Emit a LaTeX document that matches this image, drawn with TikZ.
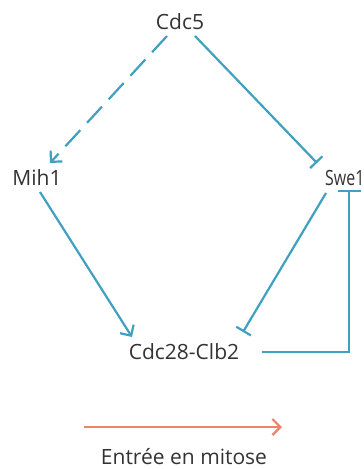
\documentclass[tikz,border=0pt]{standalone}
\usepackage{fontspec}
\setmainfont{Open Sans}
\usetikzlibrary{arrows.meta,calc}
\definecolor{lblue}{HTML}{3FA0C0}
\definecolor{lorange}{HTML}{E8856B}
\definecolor{txt}{HTML}{333333}
\begin{document}
\begin{tikzpicture}[x=1pt,y=-1pt,
  lab/.style={inner sep=0pt,text=txt,font=\fontsize{21}{24}\selectfont},
  link/.style={draw=lblue,line width=2.2pt},
  act/.style={link,-{Straight Barb[length=8pt,width=16pt,line width=2.2pt]}},
  inh/.style={link,-{Bar[width=17pt,line width=2.2pt]}}]
\useasboundingbox (0,0) rectangle (364,469);
\node[lab] (cdc5) at (180,22) {Cdc5};
\node[lab] (mih1) at (37,178) {Mih1};
\node[lab,anchor=west] (swe1) at (325,178) {\scalebox{0.76}[1]{Swe1}};
\node[lab] (c28) at (184,352) {Cdc28-Clb2};
\node[lab] (entree) at (184,457) {Entrée en mitose};
\draw[act,dash pattern=on 22pt off 10pt] ($(cdc5)+(-13,14)$) -- ($(mih1)+(13,-15)$);
\draw[inh] ($(cdc5)+(15,14)$) -- ($(swe1.west)+(-8,-15)$);
\draw[act] ($(mih1)+(3,14)$) -- ($(c28)+(-52,-15)$);
\draw[inh] ($(swe1.west)+(1,15)$) -- ($(c28)+(59,-20)$);
\draw[link,-{Bar[width=23pt,line width=2.2pt]}] ($(c28)+(78,0)$) -| ($(swe1.west)+(24,12)$);
\coordinate (oa) at ($(entree)+(-100,-30)$);
\coordinate (ob) at ($(entree)+(98,-30)$);
\draw[draw=lorange,line width=2.2pt,-{Straight Barb[length=8pt,width=16pt,line width=2.2pt]}] (oa) -- (ob);
\end{tikzpicture}
\end{document}
